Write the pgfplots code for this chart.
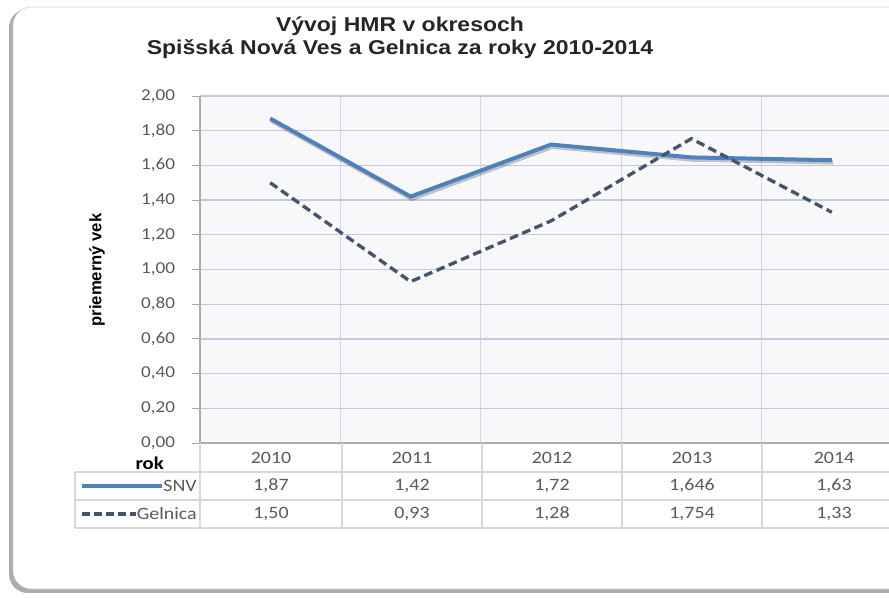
\documentclass[border=0pt]{standalone}
\usepackage{fontspec}
\setmainfont{Carlito}
\newfontfamily\calibri[FakeStretch=1.15]{Carlito}
\newfontfamily\titlefont[FakeStretch=1.15]{Liberation Sans}
\newfontfamily\arial{Liberation Sans}
\usepackage{pgfplots}
\pgfplotsset{compat=1.18}
\definecolor{snv}{RGB}{79,129,189}
\definecolor{gel}{RGB}{68,84,106}
\definecolor{gridh}{RGB}{196,202,222}
\definecolor{gridv}{RGB}{210,214,230}
\definecolor{plotbg}{RGB}{248,248,251}
\definecolor{txtgray}{RGB}{90,90,90}
\definecolor{tabline}{RGB}{215,215,215}

\begin{document}
\begin{tikzpicture}[x=0.75pt,y=0.75pt]
% page = 889 x 598 px, y counted from the bottom
\path[use as bounding box] (0,0) rectangle (889,598);
\fill[white] (0,0) rectangle (889,598);
\clip (0,0) rectangle (889,598);

% chart frame with shadow
\fill[gray!65, rounded corners=14] (9,5) rectangle (910,589);
\filldraw[fill=white, draw=gray!35, rounded corners=14] (13,9) rectangle (912,591);

% title
\node[font=\titlefont\bfseries\fontsize{15}{18}\selectfont, align=center, text=black!85]
  at (400,560) {V\'yvoj HMR v okresoch\\[-1pt]Spi\v{s}sk\'a Nov\'a Ves a Gelnica za roky 2010-2014};

% y label
\node[font=\arial\bfseries\fontsize{12.5}{14}\selectfont, rotate=90] at (97,328) {priemern\'y vek};

\begin{axis}[
    at={(150pt,116.25pt)}, anchor=south west,
    scale only axis, width=526.5pt, height=260.25pt,
    xmin=-0.5, xmax=4.5, ymin=0, ymax=2,
    xtick={0.5,1.5,2.5,3.5}, xticklabels={},
    xtick style={draw=none},
    ytick={0,0.2,0.4,0.6,0.8,1.0,1.2,1.4,1.6,1.8,2.0},
    /pgf/number format/assume math mode=true,
    tick label style={font=\calibri\fontsize{12.5}{14}\selectfont, text=txtgray},
    yticklabel style={/pgf/number format/fixed, /pgf/number format/fixed zerofill,
                      /pgf/number format/precision=2, /pgf/number format/use comma,
                      anchor=east, inner sep=0pt, xshift=-12.5pt},
    tick align=outside, major tick length=6pt,
    ytick style={draw=gray!70, line width=0.6pt},
    axis x line*=bottom, axis y line*=left,
    axis line style={draw=gray!65, line width=0.8pt, -},
    grid=major,
    y grid style={draw=gridh, line width=1pt},
    x grid style={draw=gridv, line width=0.8pt},
    axis background/.style={fill=plotbg},
    clip=false,
]
\addplot[draw=black, opacity=0.22, line width=3.5pt, line join=round, forget plot,
         transform canvas={xshift=1pt, yshift=-1.5pt}]
  coordinates {(0,1.87) (1,1.42) (2,1.72) (3,1.646) (4,1.63)};
\addplot[draw=snv, line width=3pt, line join=round]
  coordinates {(0,1.87) (1,1.42) (2,1.72) (3,1.646) (4,1.63)};
\addplot[draw=gel, line width=2.5pt, dash pattern=on 6.5pt off 3.5pt]
  coordinates {(0,1.50) (1,0.93) (2,1.28) (3,1.754) (4,1.33)};
\end{axis}

% data table
\draw[tabline, line width=0.8pt] (75,126) -- (905,126);
\draw[tabline, line width=0.8pt] (75,98) -- (905,98);
\draw[tabline, line width=0.8pt] (75,70) -- (905,70);
\draw[tabline, line width=0.8pt] (75,126) -- (75,70);
\foreach \xx in {200,342,482,622,762} {
  \draw[tabline, line width=0.8pt] (\xx,155) -- (\xx,70);
}
\node[font=\calibri\bfseries\fontsize{13.5}{15}\selectfont, anchor=east, inner sep=0pt] at (164,135) {rok};
\node[font=\calibri\fontsize{13}{14}\selectfont, text=txtgray, anchor=east, inner sep=0pt] (lsnv) at (197,112) {SNV};
\node[font=\calibri\fontsize{13}{14}\selectfont, text=txtgray, anchor=east, inner sep=0pt] (lgel) at (197,84) {Gelnica};
\draw[snv, line width=2.4pt] (82,112) -- ([xshift=-0.5pt]lsnv.west);
\draw[gel, line width=2.4pt, dash pattern=on 6pt off 3pt] (82,84) -- ([xshift=-0.5pt]lgel.west);

\begin{scope}[every node/.style={font=\calibri\fontsize{13}{14}\selectfont, text=txtgray, inner sep=0pt}]
\node at (271,140) {2010};
\node at (412,140) {2011};
\node at (552,140) {2012};
\node at (692,140) {2013};
\node at (834,140) {2014};
\node at (271,112) {1,87};
\node at (412,112) {1,42};
\node at (552,112) {1,72};
\node at (692,112) {1,646};
\node at (834,112) {1,63};
\node at (271,84) {1,50};
\node at (412,84) {0,93};
\node at (552,84) {1,28};
\node at (692,84) {1,754};
\node at (834,84) {1,33};
\end{scope}
\end{tikzpicture}
\end{document}
